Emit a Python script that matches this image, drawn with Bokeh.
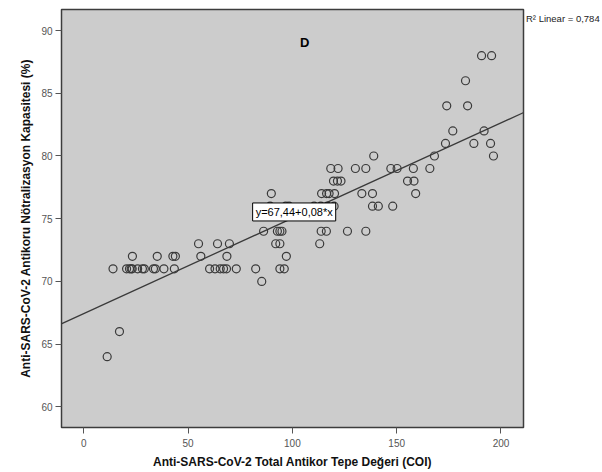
from bokeh.plotting import figure
from bokeh.models import Label, Slope, Legend, LegendItem
from bokeh.embed import file_html
from bokeh.resources import INLINE

# ---- data ----
x_vals = [
    11.2,
    17.1,
    85.3,
    14.0, 20.5, 21.9, 22.7, 23.2, 25.8, 28.1, 29.0, 33.4, 34.3, 38.4, 43.4,
    60.3, 62.9, 65.4, 67.0, 68.4, 73.1, 82.4, 94.0, 96.1,
    23.3, 35.2, 42.7, 43.9, 56.1, 68.6, 97.1,
    55.0, 64.1, 69.8, 92.0, 94.0, 113.1,
    86.2, 92.8, 94.0, 95.0, 113.8, 116.3, 126.4, 135.2,
    89.3, 96.8, 98.4, 110.4, 113.6, 116.8, 120.0, 138.4, 141.2, 148.1,
    89.9, 114.0, 116.4, 117.6, 120.2, 133.3, 138.4, 159.1,
    119.7, 121.6, 123.3, 155.2, 158.3,
    118.4, 121.9, 130.2, 135.2, 147.2, 150.2, 158.0, 165.9,
    139.0, 168.1, 196.4,
    173.4, 187.0, 195.0,
    176.9, 191.9,
    174.0, 184.0,
    183.0,
    190.7, 195.5,
]
y_vals = (
    [64]
    + [66]
    + [70]
    + [71] * 21
    + [72] * 7
    + [73] * 6
    + [74] * 8
    + [76] * 10
    + [77] * 8
    + [78] * 5
    + [79] * 8
    + [80] * 3
    + [81] * 3
    + [82] * 2
    + [84] * 2
    + [86] * 1
    + [88] * 2
)

fit_intercept = 67.44
fit_slope = 0.076
fit_text = "y=67,44+0,08*x"
r2_text = "R\u00b2 Linear = 0,784"
panel_letter = "D"

x_ticks = [0, 50, 100, 150, 200]
y_ticks = [60, 65, 70, 75, 80, 85, 90]

x_title = "Anti-SARS-CoV-2 Total Antikor Tepe Değeri (COI)"
y_title = "Anti-SARS-CoV-2 Antikoru Nötralizasyon Kapasitesi (%)"

FONT = "Liberation Sans"

p = figure(
    frame_width=462, frame_height=418,
    min_border_left=61, min_border_right=77, min_border_top=9, min_border_bottom=43,
    x_range=(-10.7, 210.8), y_range=(58.35, 91.68),
    output_backend="svg", toolbar_location=None,
)
p.background_fill_color = "#cccccc"
p.border_fill_color = "white"
p.outline_line_color = "#3c3c3c"
p.outline_line_width = 1.5
p.grid.visible = False

for ax in (p.xaxis, p.yaxis):
    ax.axis_line_color = None
    ax.major_tick_line_color = "#555555"
    ax.major_tick_out = 6
    ax.major_tick_in = 0
    ax.minor_tick_line_color = None
    ax.major_label_text_font = FONT
    ax.major_label_text_font_size = "10px"
    ax.major_label_text_color = "#555555"
    ax.axis_label_text_font = FONT
    ax.axis_label_text_font_style = "bold"
    ax.axis_label_text_font_size = "12px"
    ax.axis_label_text_color = "#111111"

p.xaxis.ticker = x_ticks
p.yaxis.ticker = y_ticks
p.xaxis.axis_label = x_title
p.yaxis.axis_label = y_title
p.xaxis.major_label_standoff = 5
p.xaxis.axis_label_standoff = 5
p.yaxis.major_label_standoff = 3
p.yaxis.axis_label_standoff = 5

p.add_layout(Slope(gradient=fit_slope, y_intercept=fit_intercept,
                   line_color="#3a3a3a", line_width=1.3))

pts = p.scatter(x_vals, y_vals, marker="circle", size=8, fill_color=None,
                line_color="#3a3a3a", line_width=1.2)

p.add_layout(Label(x=79.5, y=74.58, text=fit_text, x_offset=3, y_offset=3,
                   text_font=FONT, text_font_size="11px", text_color="black",
                   text_baseline="bottom", padding=3,
                   background_fill_color="white", border_line_color="black",
                   border_line_width=1))

p.add_layout(Label(x=105.9, y=89.07, text=panel_letter, text_font=FONT,
                   text_font_size="13px", text_font_style="bold",
                   text_align="center", text_baseline="middle", text_color="black"))

# R^2 note just outside the frame's top-right corner (legend in right panel, no glyph)
ghost = p.scatter([], [], marker="circle", size=1, fill_alpha=0, line_alpha=0)
r2_legend = Legend(
    items=[LegendItem(label=r2_text, renderers=[ghost])],
    location="top_left", margin=0, padding=0, spacing=0,
    glyph_width=0, glyph_height=18, label_height=18, label_standoff=3,
    label_text_font=FONT, label_text_font_size="9.5px", label_text_color="#222222",
    border_line_color=None, background_fill_alpha=0,
)
p.add_layout(r2_legend, "right")

open("out.html", "w").write(file_html(p, INLINE))
